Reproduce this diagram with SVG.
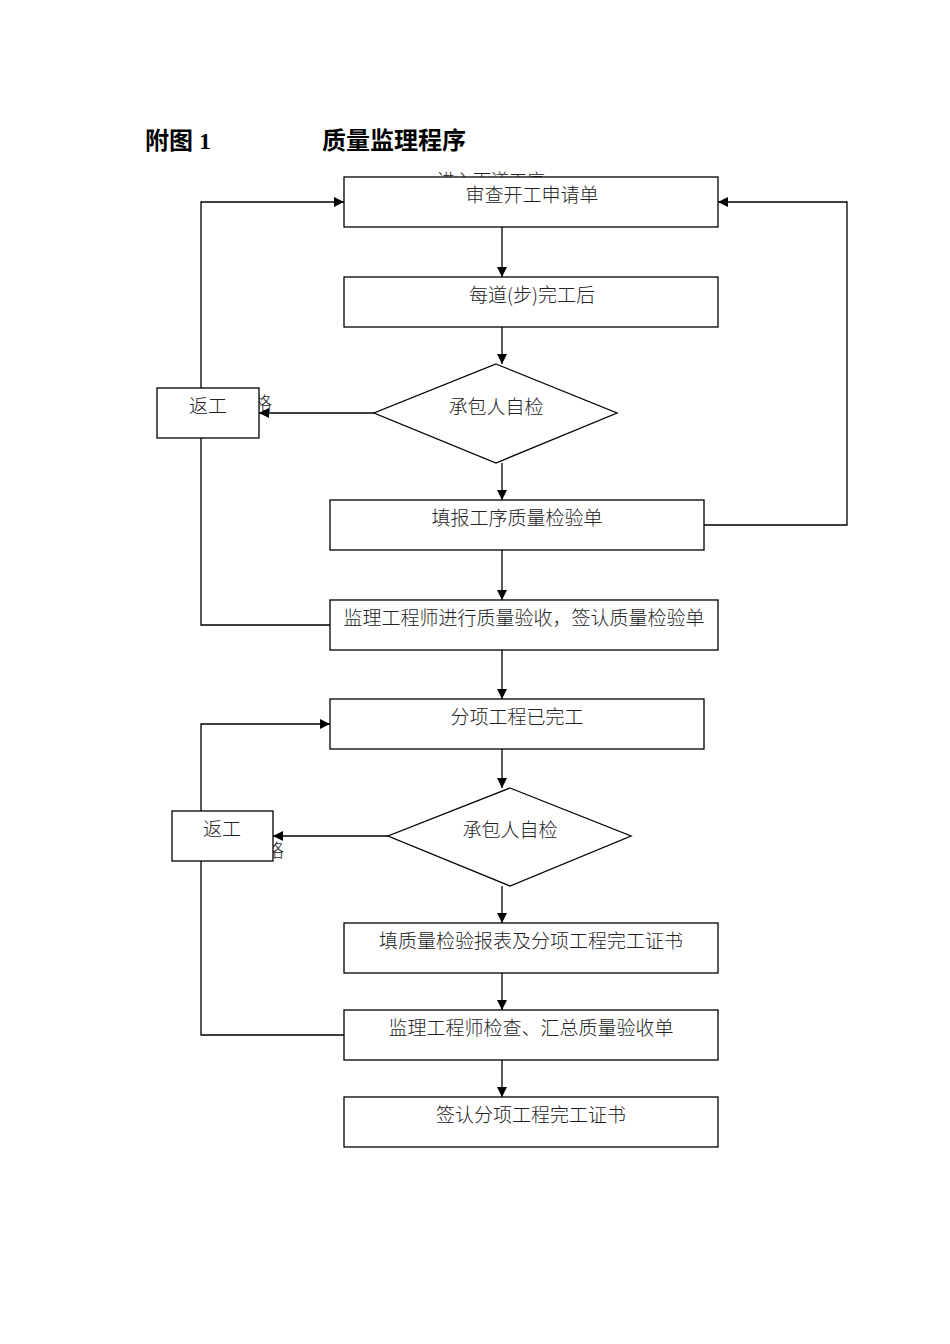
<svg xmlns="http://www.w3.org/2000/svg" width="950" height="1344" viewBox="0 0 950 1344">
<defs>
<marker id="arr" viewBox="0 0 10 10" refX="10" refY="5" markerWidth="10" markerHeight="10" markerUnits="userSpaceOnUse" orient="auto">
<path d="M0,0 L10,5 L0,10 z" fill="#000"/>
</marker>
<style>
.box{fill:#fff;stroke:#000;stroke-width:1.3}
.t{font-family:"Noto Sans CJK SC","Noto Sans CJK JP",sans-serif;font-size:19px;font-weight:300;fill:#222;text-anchor:middle}
.c{fill:none;stroke:#000;stroke-width:1.3}
.title{font-family:"Liberation Serif","Noto Sans CJK SC",serif;font-size:24px;font-weight:bold;fill:#000}
.lbl{font-family:"Noto Sans CJK SC",sans-serif;font-size:18px;font-weight:300;fill:#222}
</style>
</defs>
<rect width="950" height="1344" fill="#fff"/>
<text class="title" x="145" y="149">附图 1</text>
<text class="title" x="322" y="149">质量监理程序</text>
<text class="lbl" x="437" y="187">进入下道工序</text>
<text class="lbl" x="218" y="410">不合格</text>
<text class="lbl" x="230" y="857">不合格</text>
<g id="connectors">
<path class="c" d="M502,227 V277" marker-end="url(#arr)"/>
<path class="c" d="M502,327 V364" marker-end="url(#arr)"/>
<path class="c" d="M502,463 V500" marker-end="url(#arr)"/>
<path class="c" d="M502,550 V600" marker-end="url(#arr)"/>
<path class="c" d="M502,650 V699" marker-end="url(#arr)"/>
<path class="c" d="M502,749 V788" marker-end="url(#arr)"/>
<path class="c" d="M502,886 V923" marker-end="url(#arr)"/>
<path class="c" d="M502,973 V1010" marker-end="url(#arr)"/>
<path class="c" d="M502,1060 V1097" marker-end="url(#arr)"/>
<path class="c" d="M374,413 H259" marker-end="url(#arr)"/>
<path class="c" d="M201,388 V202 H344" marker-end="url(#arr)"/>
<path class="c" d="M201,438 V625 H330"/>
<path class="c" d="M704,525 H847 V202 H718" marker-end="url(#arr)"/>
<path class="c" d="M388,836 H273" marker-end="url(#arr)"/>
<path class="c" d="M201,811 V724 H330" marker-end="url(#arr)"/>
<path class="c" d="M201,861 V1035 H344"/>
</g>
<g id="n1"><rect class="box" x="344" y="177" width="374" height="50"/><text class="t" x="532" y="202">审查开工申请单</text></g>
<g id="n2"><rect class="box" x="344" y="277" width="374" height="50"/><text class="t" x="532" y="302">每道(步)完工后</text></g>
<g id="n3"><polygon class="box" points="496,364 617,413 496,463 374,413"/><text class="t" x="496" y="414">承包人自检</text></g>
<g id="n4"><rect class="box" x="157" y="388" width="102" height="50"/><text class="t" x="208" y="413">返工</text></g>
<g id="n5"><rect class="box" x="330" y="500" width="374" height="50"/><text class="t" x="517" y="525">填报工序质量检验单</text></g>
<g id="n6"><rect class="box" x="330" y="600" width="388" height="50"/><text class="t" x="524" y="625">监理工程师进行质量验收，签认质量检验单</text></g>
<g id="n7"><rect class="box" x="330" y="699" width="374" height="50"/><text class="t" x="517" y="724">分项工程已完工</text></g>
<g id="n8"><polygon class="box" points="510,788 631,836 510,886 388,836"/><text class="t" x="510" y="837">承包人自检</text></g>
<g id="n9"><rect class="box" x="172" y="811" width="101" height="50"/><text class="t" x="222" y="836">返工</text></g>
<g id="n10"><rect class="box" x="344" y="923" width="374" height="50"/><text class="t" x="531" y="948">填质量检验报表及分项工程完工证书</text></g>
<g id="n11"><rect class="box" x="344" y="1010" width="374" height="50"/><text class="t" x="531" y="1035">监理工程师检查、汇总质量验收单</text></g>
<g id="n12"><rect class="box" x="344" y="1097" width="374" height="50"/><text class="t" x="531" y="1122">签认分项工程完工证书</text></g>
</svg>
